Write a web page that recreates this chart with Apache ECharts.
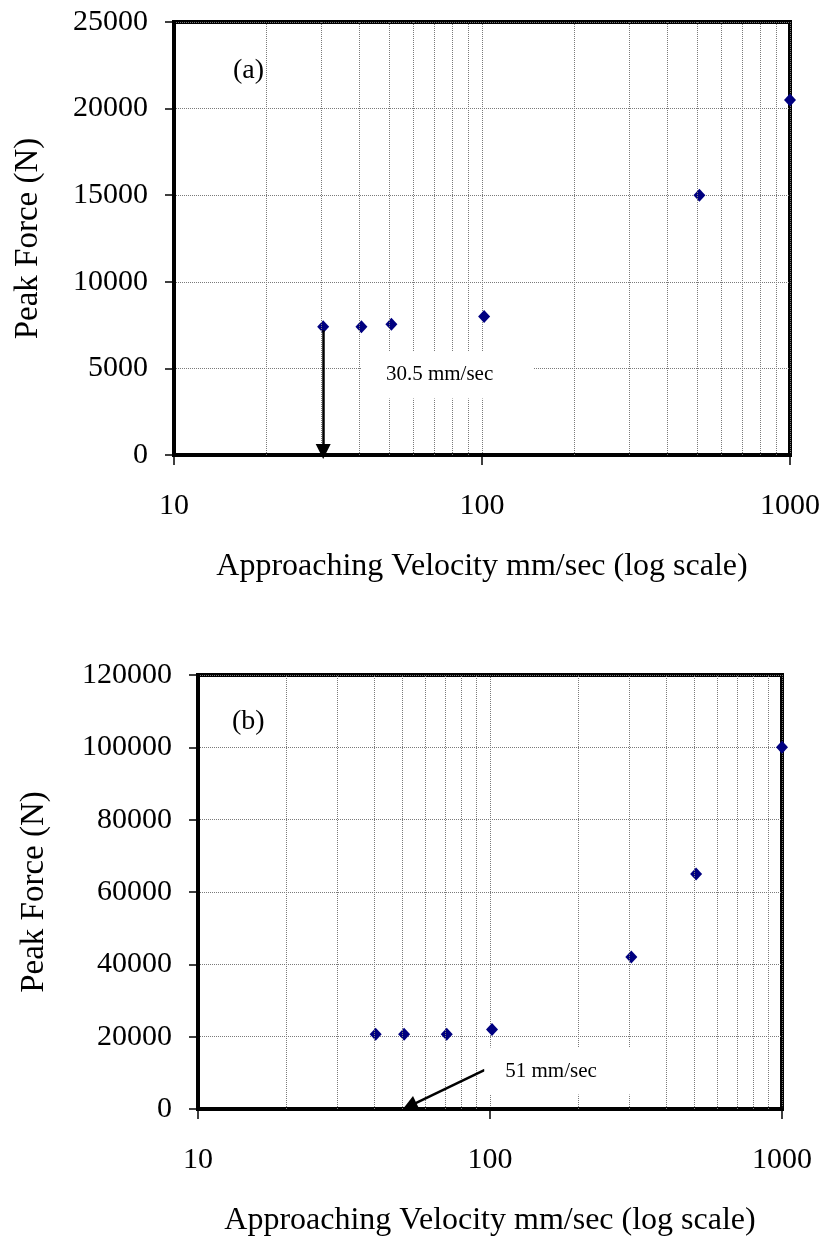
<!DOCTYPE html>
<html>
<head>
<meta charset="utf-8">
<script src="https://cdn.jsdelivr.net/npm/echarts@6/dist/echarts.min.js"></script>
<style>
html,body{margin:0;padding:0;background:#fff;}
#chart{width:829px;height:1239px;}
</style>
</head>
<body>
<div id="chart"></div>
<script>
// ---- data ----
const velocityA = [30.5, 40.6, 50.8, 101.6, 508, 1000];
const forceA = [7400, 7400, 7550, 8000, 15000, 20500];
const velocityB = [40.6, 50.8, 71.1, 101.6, 304.8, 508, 1000];
const forceB = [20700, 20700, 20700, 22000, 42000, 65000, 100000];
const xTickLabels = [10, 100, 1000];
const yTicksA = [0, 5000, 10000, 15000, 20000, 25000];
const yTicksB = [0, 20000, 40000, 60000, 80000, 100000, 120000];
const minorVel = [20, 30, 40, 50, 60, 70, 80, 90, 200, 300, 400, 500, 600, 700, 800, 900];
const panelLabels = ['(a)', '(b)'];
const xTitle = 'Approaching Velocity mm/sec (log scale)';
const yTitle = 'Peak Force (N)';
const noteA = '30.5 mm/sec';
const noteB = '51 mm/sec';

const FONT = "'Liberation Serif', 'Times New Roman', serif";
const GRID_COLOR = '#7a7a7a';

function xAxisFor(gridIndex) {
  return {
    type: 'log', logBase: 10, gridIndex: gridIndex,
    min: xTickLabels[0], max: xTickLabels[xTickLabels.length - 1],
    name: xTitle, nameLocation: 'middle', nameGap: 96,
    nameTextStyle: {fontFamily: FONT, fontSize: 32, color: '#000'},
    axisLine: {show: true, lineStyle: {color: '#000', width: 4}},
    axisTick: {show: true, inside: false, length: 10, lineStyle: {color: '#000', width: 1.5}},
    axisLabel: {margin: 36, fontFamily: FONT, fontSize: 30, color: '#000',
      formatter: v => String(Math.round(v))},
    splitLine: {show: true, lineStyle: {color: GRID_COLOR, width: 1, type: 'dotted'}},
    minorTick: {show: false}, minorSplitLine: {show: false}
  };
}
function yAxisFor(gridIndex, ticks, gap) {
  return {
    type: 'value', gridIndex: gridIndex,
    min: ticks[0], max: ticks[ticks.length - 1], interval: ticks[1] - ticks[0],
    name: yTitle, nameLocation: 'middle', nameRotate: 90, nameGap: gap,
    nameTextStyle: {fontFamily: FONT, fontSize: 33, color: '#000'},
    axisLine: {show: true, lineStyle: {color: '#000', width: 4}},
    axisTick: {show: true, inside: false, length: 9, lineStyle: {color: '#000', width: 1.5}},
    axisLabel: {margin: 26, fontFamily: FONT, fontSize: 30, color: '#000',
      formatter: v => String(v)},
    splitLine: {show: true, lineStyle: {color: GRID_COLOR, width: 1, type: 'dotted'}}
  };
}
function minorGridSeries(idx) {
  return {
    type: 'scatter', xAxisIndex: idx, yAxisIndex: idx, data: [], z: 1, silent: true,
    markLine: {
      silent: true, symbol: ['none', 'none'], animation: false,
      label: {show: false},
      lineStyle: {color: GRID_COLOR, width: 1, type: 'dotted'},
      emphasis: {disabled: true},
      data: minorVel.map(v => ({xAxis: v}))
    }
  };
}
function noteLabel(text, padding) {
  return {
    show: true, position: 'inside', formatter: text,
    fontFamily: FONT, fontSize: 21, color: '#000',
    backgroundColor: '#fff', padding: padding
  };
}
function arrowMarkLine(from, to) {
  return {
    silent: true, symbol: ['none', 'triangle'], symbolSize: 15,
    label: {show: false}, emphasis: {disabled: true},
    itemStyle: {color: '#000'},
    lineStyle: {color: '#000', width: 2.5, type: 'solid', opacity: 1},
    data: [[{coord: from}, {coord: to}]]
  };
}

const option = {
  backgroundColor: '#fff',
  animation: false,
  title: [
    {text: panelLabels[0], left: 228, top: 52, textStyle: {fontFamily: FONT, fontSize: 28, fontWeight: 'normal', color: '#000'}},
    {text: panelLabels[1], left: 227, top: 703, textStyle: {fontFamily: FONT, fontSize: 28, fontWeight: 'normal', color: '#000'}}
  ],
  grid: [
    {left: 174, top: 22, width: 616, height: 433, show: true, borderColor: '#000', borderWidth: 4, backgroundColor: 'transparent'},
    {left: 198, top: 675, width: 584, height: 434, show: true, borderColor: '#000', borderWidth: 4, backgroundColor: 'transparent'}
  ],
  xAxis: [xAxisFor(0), xAxisFor(1)],
  yAxis: [yAxisFor(0, yTicksA, 129), yAxisFor(1, yTicksB, 147)],
  series: [
    minorGridSeries(0),
    minorGridSeries(1),
    {
      type: 'scatter', xAxisIndex: 0, yAxisIndex: 0, data: [], z: 2, silent: true,
      markLine: arrowMarkLine([30.5, 7200], [30.5, 200]),
      markPoint: {
        silent: true, symbol: 'rect', symbolSize: 1, itemStyle: {color: 'rgba(0,0,0,0)'},
        data: [{coord: [77.3, 4620], label: noteLabel(noteA, [13, 40, 13, 24])}]
      }
    },
    {
      type: 'scatter', xAxisIndex: 1, yAxisIndex: 1, data: [], z: 2, silent: true,
      markLine: arrowMarkLine([96, 10800], [53, 800]),
      markPoint: {
        silent: true, symbol: 'rect', symbolSize: 1, itemStyle: {color: 'rgba(0,0,0,0)'},
        data: [{coord: [180, 10500], label: noteLabel(noteB, [13, 48, 13, 21])}]
      }
    },
    {
      type: 'scatter', xAxisIndex: 0, yAxisIndex: 0, z: 3, clip: false,
      symbol: 'diamond', symbolSize: [12, 13], itemStyle: {color: '#000080', opacity: 1},
      data: velocityA.map((v, i) => [v, forceA[i]])
    },
    {
      type: 'scatter', xAxisIndex: 1, yAxisIndex: 1, z: 3, clip: false,
      symbol: 'diamond', symbolSize: [12, 13], itemStyle: {color: '#000080', opacity: 1},
      data: velocityB.map((v, i) => [v, forceB[i]])
    }
  ]
};
const chart = echarts.init(document.getElementById('chart'), null, {renderer: 'canvas'});
chart.setOption(option);
</script>
</body>
</html>
